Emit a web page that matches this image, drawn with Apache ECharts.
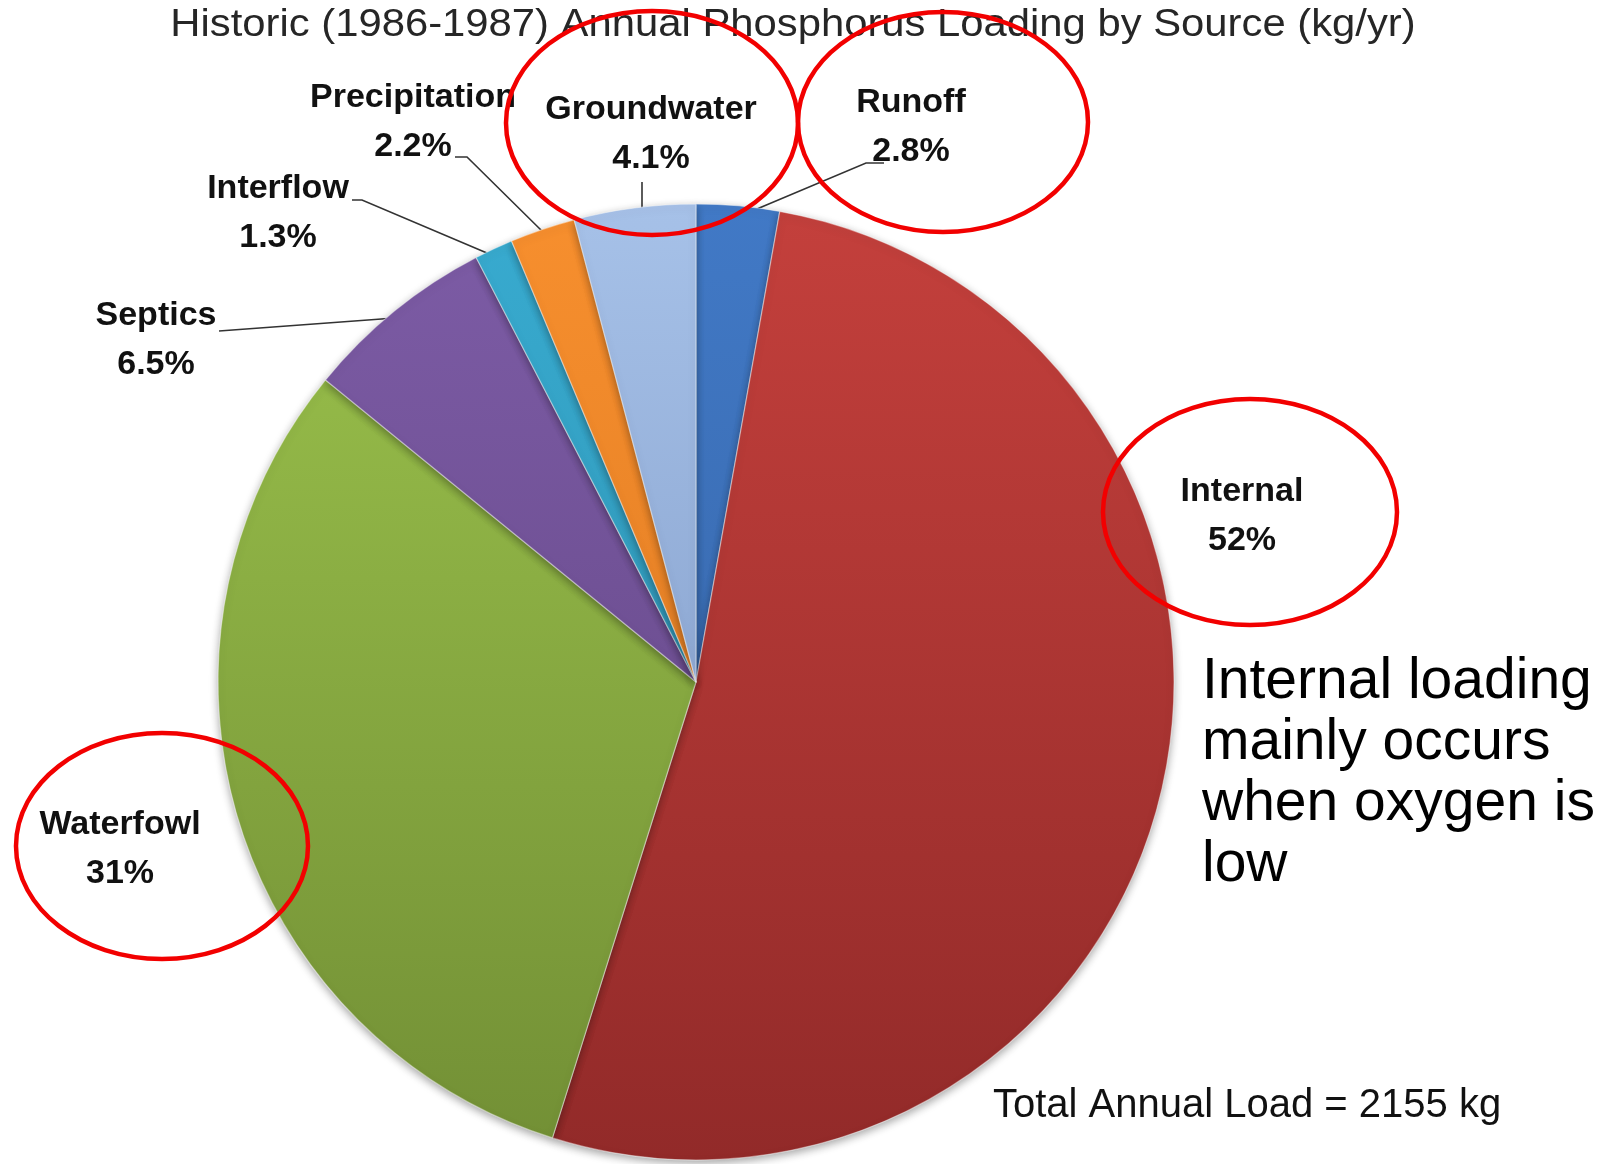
<!DOCTYPE html>
<html style='height: 100%'>
<head>
    <meta charset='utf-8'>
</head>
<body style='height: 100%; margin: 0; background: #fff'>
    <div id='container' style='height: 100%'></div>
    <script type='text/javascript' src='https://cdn.jsdelivr.net/npm/echarts@6/dist/echarts.min.js'></script>
    <script type="text/javascript">

// Historic (1986-1987) annual phosphorus loading, share in %
var sources = ['Runoff', 'Internal', 'Waterfowl', 'Septics', 'Interflow', 'Precipitation', 'Groundwater'];
var shares = [2.8, 52, 31, 6.5, 1.3, 2.2, 4.1];

var titleText = 'Historic (1986-1987) Annual Phosphorus Loading by Source (kg/yr)';
var totalText = 'Total Annual Load = 2155 kg';
var noteLines = ['Internal loading', 'mainly occurs', 'when oxygen is', 'low'];

// top / bottom shade of each slice
var shadeTop = ['#4179c6', '#c4403c', '#9bc24c', '#7d5ca6', '#38abd0', '#f78f2e', '#a6c1e8'];
var shadeBottom = ['#335f9e', '#922a29', '#728f35', '#5f4380', '#2b8aa8', '#d6741e', '#7892c0'];

// label placement (px) and leader lines
var labelPos = {
    'Runoff': [911, 127],
    'Internal': [1242, 516],
    'Waterfowl': [120, 849],
    'Septics': [156, 340],
    'Interflow': [278, 213],
    'Precipitation': [413, 122],
    'Groundwater': [651, 134]
};
var leaders = {
    'Runoff': [[884, 163], [866, 163], [745, 214]],
    'Septics': [[219, 331], [395, 318]],
    'Interflow': [[352, 200], [362, 200], [494, 256]],
    'Precipitation': [[455, 157], [467, 157], [543, 232]],
    'Groundwater': [[642, 182], [642, 212]]
};

var dom = document.getElementById("container");
var myChart = echarts.init(dom);

var pieData = [];
for (var i = 0; i < sources.length; i++) {
    pieData.push({
        name: sources[i],
        value: shares[i],
        itemStyle: {
            color: new echarts.graphic.LinearGradient(0, 204, 0, 1160, [
                {offset: 0, color: shadeTop[i]},
                {offset: 1, color: shadeBottom[i]}
            ], true)
        }
    });
}

var rings = [
    [652, 123, 146, 112],
    [943, 122, 145, 110],
    [1250, 512, 147, 113],
    [162, 846, 146, 113]
];
var graphics = [{
    type: 'text', x: 793, y: 26, z: 10, scaleX: 1.1,
    style: {text: titleText, fill: '#262626', font: '38px "Liberation Sans", sans-serif',
        textAlign: 'center', textVerticalAlign: 'middle'}
}, {
    type: 'text', x: 993, y: 1106, z: 10,
    style: {text: totalText, fill: '#111', font: '40px "Liberation Sans", sans-serif',
        textAlign: 'left', textVerticalAlign: 'middle'}
}, {
    type: 'text', x: 1202, y: 652, z: 10,
    style: {text: noteLines.join('\n'), fill: '#000', font: '57px "Liberation Sans", sans-serif',
        lineHeight: 61, textAlign: 'left', textVerticalAlign: 'top'}
}];
rings.forEach(function (r) {
    graphics.push({
        type: 'ellipse', z: 100,
        shape: {cx: r[0], cy: r[1], rx: r[2], ry: r[3]},
        style: {fill: 'none', stroke: '#f20000', lineWidth: 4.5}
    });
});

option = {
    animation: false,
    backgroundColor: '#fff',
    graphic: graphics,
    series: [{
        type: 'pie',
        center: [696, 682],
        radius: 478,
        startAngle: 90,
        clockwise: true,
        data: pieData,
        itemStyle: {
            borderColor: 'rgba(255,255,255,0.45)',
            borderWidth: 1.2,
            shadowBlur: 8,
            shadowOffsetY: 3,
            shadowColor: 'rgba(0,0,0,0.35)'
        },
        label: {
            show: true,
            formatter: '{b}\n{c}%',
            color: '#111',
            fontFamily: '"Liberation Sans", sans-serif',
            fontWeight: 'bold',
            fontSize: 34,
            lineHeight: 49,
            align: 'center'
        },
        labelLine: {
            show: true,
            lineStyle: {color: '#333', width: 1.6}
        },
        labelLayout: function (params) {
            var name = sources[params.dataIndex];
            var p = labelPos[name];
            var res = {x: p[0], y: p[1], align: 'center', verticalAlign: 'middle'};
            if (leaders[name]) {
                res.labelLinePoints = leaders[name];
            } else {
                res.labelLinePoints = [[0, 0], [0, 0]];
            }
            return res;
        }
    }]
};

if (option && typeof option === "object") {
    myChart.setOption(option, true);
}
       </script>
   </body>
</html>
